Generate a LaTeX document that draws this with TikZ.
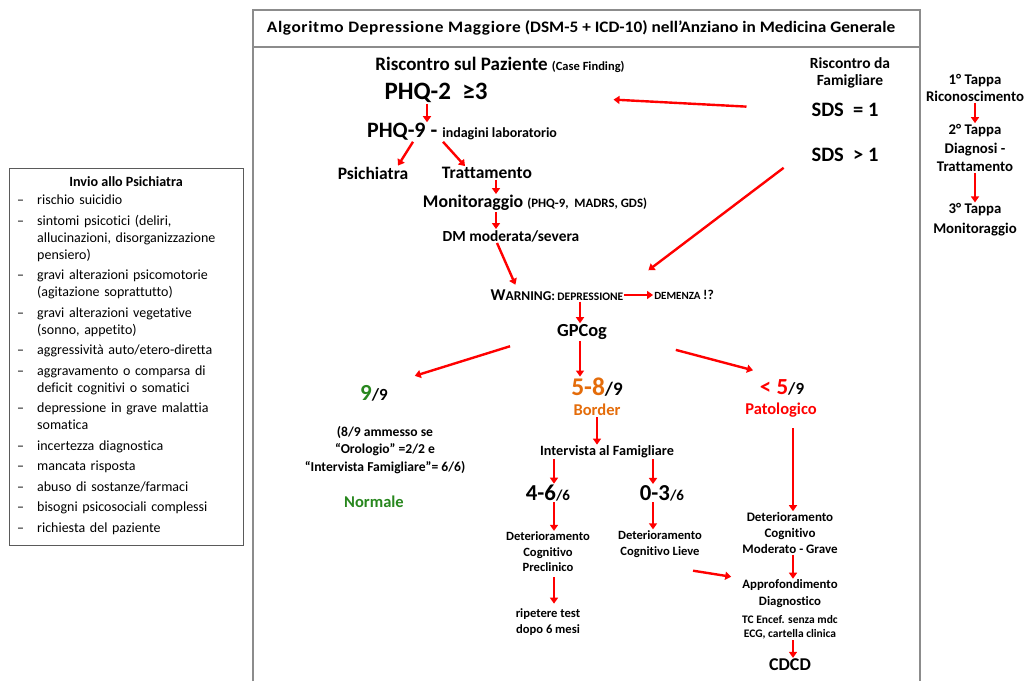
\documentclass[tikz,border=0pt]{standalone}
\usepackage{fontspec}
\setmainfont{Carlito}[Ligatures={TeX,NoCommon}]
\usepackage{xcolor}
\definecolor{arred}{RGB}{255,0,0}
\definecolor{okgreen}{RGB}{40,135,30}
\definecolor{brorange}{RGB}{228,108,10}
\definecolor{framegray}{RGB}{140,140,140}
\definecolor{boxgray}{RGB}{90,90,90}
\usepackage{tikz}
\usetikzlibrary{arrows.meta}
\newcommand\fsz[2]{\fontsize{#1}{#2}\selectfont}
\newcommand\critem[1]{\par\hangindent=20pt\hangafter=1\noindent\makebox[20pt][l]{--}#1}

\begin{document}
\begin{tikzpicture}[
  x=1pt, y=-1pt,
  txt/.style={align=center, inner sep=1pt},
  arr/.style={-{Triangle[length=6pt,width=8pt]}, line width=2.4pt, color=arred},
  frm/.style={draw=framegray, line width=1.2pt}
]
  \useasboundingbox (0,0) rectangle (1030,681);
  % Frame and title
  \draw[frm] (253,681) -- (253,10) -- (920,10) -- (920,681);
  \draw[frm] (253,47) -- (920,47);
  \node[txt, font=\fsz{16}{19}\bfseries\addfontfeature{FakeStretch=1.08}] (title) at (581,28)
    {{\addfontfeature{LetterSpace=4}Algoritmo Depressione Maggiore} (DSM-5 + ICD-10) nell'Anziano in Medicina Generale};

  % Case finding
  \node[txt, font=\fsz{19}{22}\bfseries] (riscpaz) at (500,65)
    {Riscontro sul Paziente {\fsz{12.5}{15}(Case Finding)}};
  \node[txt, font=\fsz{25}{29}\bfseries] (phq2) at (436,93) {PHQ-2 \ ≥3};
  \node[txt, font=\fsz{22}{26}\bfseries] (phq9) at (462,132)
    {PHQ-9 - {\fsz{14}{17}indagini laboratorio}};
  \node[txt, font=\fsz{17.5}{21}\bfseries] (psich) at (373,173) {Psichiatra};
  \node[txt, font=\fsz{17.5}{21}\bfseries] (tratt) at (487,173) {Trattamento};
  \node[txt, font=\fsz{17.8}{21}\bfseries] (monit) at (535,203)
    {Monitoraggio {\fsz{12.8}{15}(PHQ-9, \ MADRS, GDS)}};
  \node[txt, font=\fsz{15.4}{18}\bfseries] (dm) at (511,236) {DM moderata/severa};

  % Family finding
  \node[txt, font=\fsz{15.5}{17}\bfseries] (riscfam) at (850,73) {Riscontro da\\Famigliare};
  \node[txt, font=\fsz{20.5}{24}\bfseries] (sds1) at (845,110) {SDS \ = 1};
  \node[txt, font=\fsz{20.5}{24}\bfseries] (sds2) at (845,155) {SDS \ > 1};

  % Warning and GPCog
  \node[txt, font=\bfseries] (warn) at (557,295)
    {{\fsz{16.5}{19}W}{\fsz{13.5}{16}ARNING:} {\fsz{11.5}{14}DEPRESSIONE}};
  \node[txt, font=\fsz{11}{13}\bfseries] (demenza) at (684,295) {DEMENZA {\fsz{13.5}{16}!?}};
  \node[txt, font=\fsz{18.4}{22}\bfseries] (gpcog) at (582,332) {GPCog};

  % GPCog outcomes
  \node[txt, font=\bfseries] (nine) at (374,393)
    {{\fsz{23}{27}\textcolor{okgreen}{9}}{\fsz{17}{20}/9}};
  \node[txt, font=\fsz{13.6}{17.5}\bfseries] (ammesso) at (385,450)
    {(8/9 ammesso se\\``Orologio'' =2/2 e\\``Intervista Famigliare''= 6/6)};
  \node[txt, font=\fsz{16.5}{19}\bfseries, text=okgreen] (normale) at (374,502) {Normale};
  \node[txt, font=\bfseries] (b58) at (597,387)
    {{\fsz{25.5}{29}\textcolor{brorange}{5-8}}{\fsz{19}{22}/9}};
  \node[txt, font=\fsz{16.5}{19}\bfseries, text=brorange] (bordtxt) at (597,410) {Border};
  \node[txt, font=\bfseries] (l5) at (782,387)
    {{\fsz{23}{27}\textcolor{arred}{< 5}}{\fsz{17}{20}/9}};
  \node[txt, font=\fsz{16.5}{19}\bfseries, text=arred] (patol) at (781,410) {Patologico};

  % Border branch
  \node[txt, font=\fsz{14.2}{17}\bfseries] (interv) at (607,452) {Intervista al Famigliare};
  \node[txt, font=\bfseries] (f46) at (548,493) {{\fsz{22.8}{26}4-6}{\fsz{15}{18}/6}};
  \node[txt, font=\bfseries] (f03) at (662,493) {{\fsz{22.8}{26}0-3}{\fsz{15}{18}/6}};
  \node[txt, font=\fsz{12.6}{15.5}\bfseries] (detpre) at (548,552) {Deterioramento\\Cognitivo\\Preclinico};
  \node[txt, font=\fsz{12.6}{16}\bfseries] (detlieve) at (660,544) {Deterioramento\\Cognitivo Lieve};
  \node[txt, font=\fsz{12.6}{15.5}\bfseries] (ripetere) at (548,622) {ripetere test\\dopo 6 mesi};

  % Pathological branch
  \node[txt, font=\fsz{13}{16}\bfseries] (detmod) at (790,533) {Deterioramento\\Cognitivo\\Moderato - Grave};
  \node[txt, font=\fsz{12.8}{17}\bfseries] (approf) at (790,594) {Approfondimento\\Diagnostico};
  \node[txt, font=\fsz{11.5}{14}\bfseries] (tcencef) at (790,627) {TC Encef. senza mdc\\ECG, cartella clinica};
  \node[txt, font=\fsz{18}{21}\bfseries] (cdcd) at (790,665) {CDCD};

  % Steps column
  \node[txt, font=\fsz{14.8}{17}\bfseries] (tappa1) at (975,88) {1° Tappa\\Riconoscimento};
  \node[txt, font=\fsz{14.8}{18.5}\bfseries] (tappa2) at (975,148) {2° Tappa\\Diagnosi -\\Trattamento};
  \node[txt, font=\fsz{14.8}{20}\bfseries] (tappa3) at (975,220) {3° Tappa\\Monitoraggio};

  % Referral box
  \draw[draw=boxgray, line width=0.9pt] (9,168) rectangle (243,545);
  \node[txt, font=\fsz{14.1}{17}\bfseries] (invio) at (126,182) {Invio allo Psichiatra};
  \node[anchor=north west, inner sep=0pt, text width=222pt, align=left,
        font=\fsz{14}{17}] (crit) at (17,184)
    {\setlength\parskip{3.5pt}%
     \critem{rischio suicidio}
     \critem{sintomi psicotici (deliri,\newline allucinazioni, disorganizzazione\newline pensiero)}
     \critem{gravi alterazioni psicomotorie\newline (agitazione soprattutto)}
     \critem{gravi alterazioni vegetative\newline (sonno, appetito)}
     \critem{aggressività auto/etero-diretta}
     \critem{aggravamento o comparsa di\newline deficit cognitivi o somatici}
     \critem{depressione in grave malattia\newline somatica}
     \critem{incertezza diagnostica}
     \critem{mancata risposta}
     \critem{abuso di sostanze/farmaci}
     \critem{bisogni psicosociali complessi}
     \critem{richiesta del paziente}};

  % Arrows
  \draw[arr, shorten <=64pt, shorten >=125pt] (sds1.west) -- (phq2.east);
  \draw[arr, shorten <=8pt, shorten >=30pt] ([xshift=-55pt]sds2.south) -- (warn.north east);
  \draw[arr] ([xshift=-9pt]phq2.south) -- ([xshift=-9pt]phq2.south |- phq9.north);
  \draw[arr] ([xshift=-49pt]phq9.south) -- ([xshift=25pt]psich.north);
  \draw[arr] ([xshift=-19pt]phq9.south) -- ([xshift=-22pt]tratt.north);
  \draw[arr] ([xshift=9pt]tratt.south) -- ([xshift=9pt]tratt.south |- monit.north);
  \draw[arr] ([xshift=-39pt]monit.south) -- ([xshift=-39pt]monit.south |- dm.north);
  \draw[arr, shorten >=4pt] ([xshift=-14pt]dm.south) -- ([xshift=-40pt]warn.north);
  \draw[arr] (warn.east) -- (demenza.west);
  \draw[arr] ([xshift=-2pt]gpcog.north |- warn.south) -- ([xshift=-2pt]gpcog.north);
  \draw[arr, shorten <=48pt, shorten >=27pt] (gpcog.west) -- (nine.north east);
  \draw[arr] ([xshift=-2pt]gpcog.south) -- ([xshift=-2pt]gpcog.south |- b58.north);
  \draw[arr, shorten <=70pt, shorten >=30pt] (gpcog.east) -- (l5.north);
  \draw[arr] (bordtxt.south) -- (bordtxt.south |- interv.north);
  \draw[arr] ([xshift=6pt]f46.north |- interv.south) -- ([xshift=6pt]f46.north);
  \draw[arr] ([xshift=-9pt]f03.north |- interv.south) -- ([xshift=-9pt]f03.north);
  \draw[arr] ([xshift=6pt]detpre.north |- f46.south) -- ([xshift=6pt]detpre.north);
  \draw[arr] ([xshift=-7pt]detlieve.north |- f03.south) -- ([xshift=-7pt]detlieve.north);
  \draw[arr, shorten <=4pt, shorten >=4pt] ([xshift=6pt]detpre.south) -- ([xshift=6pt]ripetere.north);
  \draw[arr] ([xshift=33pt,yshift=-12pt]detlieve.south) -- ([xshift=-10pt,yshift=2pt]approf.north west);
  \draw[arr, shorten <=10pt] ([xshift=3pt]detmod.north |- patol.south) -- ([xshift=3pt]detmod.north);
  \draw[arr] ([xshift=3pt]detmod.south) -- ([xshift=3pt]approf.north);
  \draw[arr] ([xshift=3pt]tcencef.south) -- ([xshift=3pt]cdcd.north);
  \draw[arr] (tappa1.south) -- (tappa2.north);
  \draw[arr] (tappa2.south) -- (tappa3.north);
\end{tikzpicture}
\end{document}
